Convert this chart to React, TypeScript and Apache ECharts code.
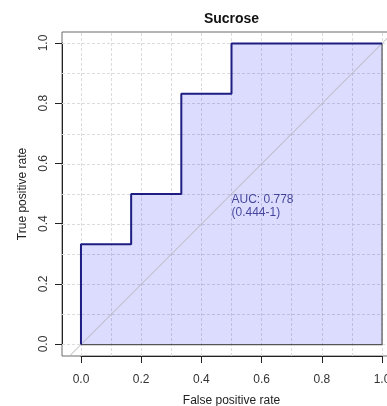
import React, { useEffect, useRef } from "react";
import * as echarts from "echarts";

const FPR = [0, 0, 0.1667, 0.1667, 0.3333, 0.3333, 0.5, 0.5, 1];
const TPR = [0, 0.3333, 0.3333, 0.5, 0.5, 0.8333, 0.8333, 1, 1];
const GRID_VALUES = [0, 0.1, 0.2, 0.3, 0.4, 0.5, 0.6, 0.7, 0.8, 0.9, 1.0];
const DIAGONAL = [-0.04, 1.04];
const POLY_BORDER_X = [0, 1, 1];
const POLY_BORDER_Y = [0, 0, 1];
const AUC_TEXT = ["AUC: 0.778", "(0.444-1)"];
const AUC_POS = [0.5, 0.5];
const TITLE = "Sucrose";
const X_TITLE = "False positive rate";
const Y_TITLE = "True positive rate";

const NAVY = "#1d1d82";
const FONT = "Liberation Sans, Arial, Helvetica, sans-serif";

export default function App() {
  const ref = useRef<HTMLDivElement>(null);
  useEffect(() => {
    if (!ref.current) return;
    const chart = echarts.init(ref.current, undefined, { renderer: "svg" });
    const curve = FPR.map((x, i) => [x, TPR[i]]);
    const option: any = {
      animation: false,
      textStyle: { fontFamily: FONT },
      grid: [
        { left: 62, top: 32, width: 339, height: 324, show: true, borderColor: "#6a6a6a", borderWidth: 1, backgroundColor: "transparent", outerBoundsMode: "none", containLabel: false },
        { left: 81, top: 43, width: 301, height: 301, outerBoundsMode: "none", containLabel: false },
      ],
      xAxis: [
        { gridIndex: 0, type: "value", min: -0.063, max: 1.063, show: false, splitLine: { show: false } },
        {
          gridIndex: 1, type: "value", min: 0, max: 1, interval: 0.2, position: "bottom", offset: 12,
          axisLine: { show: true, onZero: false, lineStyle: { color: "#222", width: 1 } },
          axisTick: { show: true, length: 7, lineStyle: { color: "#222" } },
          axisLabel: { fontSize: 12, color: "#333", margin: 17, fontFamily: FONT, formatter: (v: number) => v.toFixed(1) },
          splitLine: { show: false },
        },
      ],
      yAxis: [
        { gridIndex: 0, type: "value", min: -0.038, max: 1.038, show: false, splitLine: { show: false } },
        {
          gridIndex: 1, type: "value", min: 0, max: 1, interval: 0.2, position: "left", offset: 19,
          axisLine: { show: true, onZero: false, lineStyle: { color: "#222", width: 1 } },
          axisTick: { show: true, length: 7, lineStyle: { color: "#222" } },
          axisLabel: { fontSize: 12, color: "#333", margin: 13, rotate: 90, fontFamily: FONT, formatter: (v: number) => v.toFixed(1) },
          splitLine: { show: false },
        },
      ],
      series: [
        {
          type: "line", xAxisIndex: 0, yAxisIndex: 0, data: [], z: 1, silent: true,
          markLine: {
            z: 1, silent: true, symbol: "none", label: { show: false },
            lineStyle: { color: "#dcdcdc", type: [3, 2], width: 1 },
            data: [
              ...GRID_VALUES.map((v) => ({ xAxis: v })),
              ...GRID_VALUES.map((v) => ({ yAxis: v })),
            ],
          },
        },
        {
          type: "line", xAxisIndex: 0, yAxisIndex: 0, data: curve, z: 2, showSymbol: false, silent: true,
          lineStyle: { opacity: 0, width: 0 },
          areaStyle: { color: "rgba(40,40,255,0.16)", opacity: 1 },
        },
        {
          type: "line", xAxisIndex: 0, yAxisIndex: 0, data: DIAGONAL.map((v) => [v, v]), z: 3, showSymbol: false, silent: true,
          lineStyle: { color: "#b4b4b4", width: 1 },
        },
        {
          type: "line", xAxisIndex: 0, yAxisIndex: 0, data: POLY_BORDER_X.map((x, i) => [x, POLY_BORDER_Y[i]]), z: 3, showSymbol: false, silent: true,
          lineStyle: { color: "#555", width: 1.2 },
        },
        {
          type: "line", xAxisIndex: 0, yAxisIndex: 0, data: curve, z: 4, showSymbol: false, silent: true,
          lineStyle: { color: NAVY, width: 2 },
        },
        {
          type: "scatter", xAxisIndex: 0, yAxisIndex: 0, data: [AUC_POS], symbolSize: 0, z: 5, silent: true,
          label: {
            show: true, position: [0, -2], align: "left", verticalAlign: "top",
            formatter: AUC_TEXT.join("\n"), color: NAVY, fontSize: 12, lineHeight: 13, fontFamily: FONT,
          },
        },
      ],
      graphic: [
        { type: "text", x: 231.5, y: 18, style: { text: TITLE, fontSize: 14, fontWeight: "bold", fill: "#111", textAlign: "center", textVerticalAlign: "middle", fontFamily: FONT } },
        { type: "text", x: 231.5, y: 400, style: { text: X_TITLE, fontSize: 12, fill: "#222", textAlign: "center", textVerticalAlign: "middle", fontFamily: FONT } },
        { type: "text", x: 21.5, y: 194, rotation: Math.PI / 2, style: { text: Y_TITLE, fontSize: 12, fill: "#222", textAlign: "center", textVerticalAlign: "middle", fontFamily: FONT } },
      ],
    };
    chart.setOption(option);
    return () => chart.dispose();
  }, []);
  return <div ref={ref} style={{ position: "fixed", left: 0, top: 0, width: 387, height: 406 }} />;
}
